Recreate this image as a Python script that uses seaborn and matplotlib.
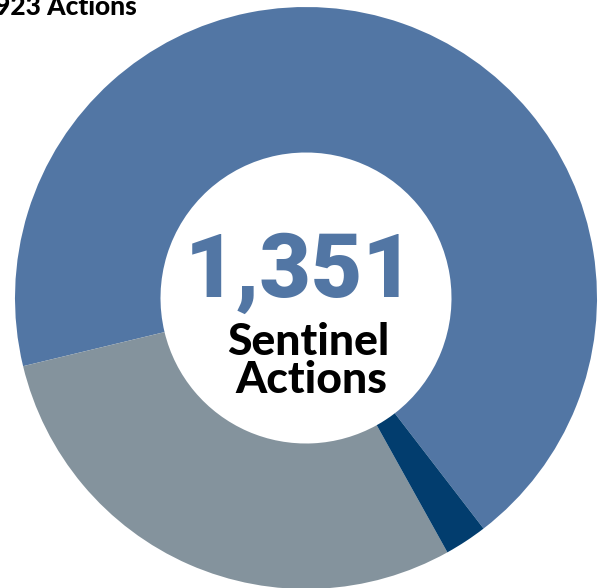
import matplotlib
matplotlib.use("Agg")
import matplotlib.pyplot as plt
import seaborn as sns

sns.set_theme(style="white")
plt.rcParams['font.family'] = ['Lato', 'DejaVu Sans']

# slices, counter-clockwise starting lower right
values = [923, 396, 32]
colors = ["#5276a4", "#84939d", "#023d6e"]
total = sum(values)
top_label = f"{values[0]} Actions"

fig = plt.figure(figsize=(6.05, 5.88), dpi=100)
ax = fig.add_axes([0, 0, 1, 1])

cx, cy, r = 306, 588 - 298, 291
ax.pie(values, colors=sns.color_palette(colors), startangle=-52.4,
       counterclock=True, center=(cx, cy), radius=r,
       wedgeprops=dict(width=r * 0.5, linewidth=0))
ax.set_xlim(0, 605)
ax.set_ylim(0, 588)
ax.set_aspect('equal')
ax.axis('off')

ax.text(300, 588 - 297, f"{total:,}", ha='center', va='baseline',
        fontsize=64, fontweight='black', color="#5276a4",
        family=['Roboto', 'DejaVu Sans'])
ax.text(308, 588 - 355, "Sentinel", ha='center', va='baseline',
        fontsize=32, fontweight='black', color="black")
ax.text(311, 588 - 393, "Actions", ha='center', va='baseline',
        fontsize=32, fontweight='black', color="black")
ax.text(137, 588 - 15, top_label, ha='right', va='baseline',
        fontsize=19, fontweight='black', color="black")

fig.savefig("out.png", dpi=100)
